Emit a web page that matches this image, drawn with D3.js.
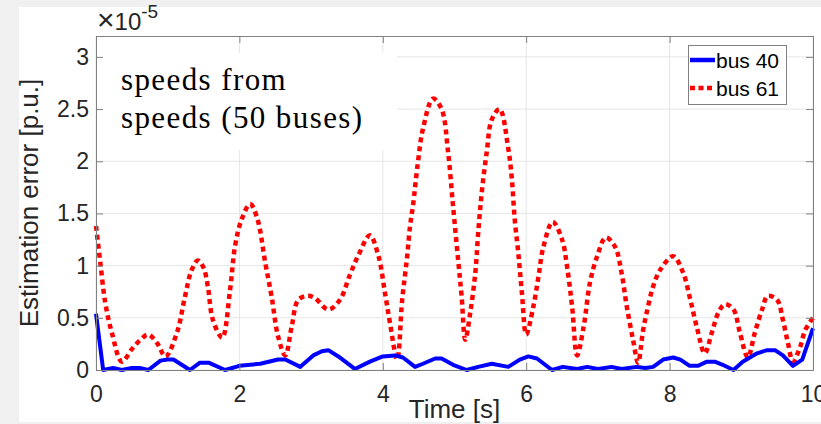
<!DOCTYPE html>
<html>
<head>
<meta charset="utf-8">
<script src="https://cdn.jsdelivr.net/npm/d3@7"></script>
<style>
  body { margin: 0; background: #f0f0f0; }
  svg { display: block; }
</style>
</head>
<body>
<script>
// values in units of 1e-5 p.u.
var bus40_t = [0, 0.1, 0.24, 0.36, 0.5, 0.61, 0.73, 0.9, 1.0, 1.08, 1.31, 1.45, 1.57, 1.8, 2.0, 2.29, 2.54, 2.64, 2.85, 3.03,
    3.15, 3.24, 3.38, 3.61, 3.82, 4.0, 4.17, 4.28, 4.45, 4.56, 4.73, 4.82, 4.98, 5.17, 5.33, 5.52, 5.75, 5.91, 6.03, 6.15,
    6.36, 6.51, 6.71, 6.85, 7.0, 7.19, 7.33, 7.54, 7.66, 7.77, 7.91, 8.05, 8.15, 8.28, 8.4, 8.52, 8.63, 8.74, 8.89, 9.02,
    9.22, 9.36, 9.47, 9.58, 9.72, 9.85, 10];
var bus40_v = [0.54, 0, 0.02, 0, 0.02, 0.02, 0, 0.09, 0.10, 0.10, 0, 0.07, 0.07, 0, 0.04, 0.06, 0.10, 0.10, 0.03, 0.14,
    0.18, 0.19, 0.13, 0.01, 0.08, 0.13, 0.14, 0.12, 0.03, 0.06, 0.11, 0.11, 0.05, 0, 0.03, 0.06, 0.03, 0.10, 0.13, 0.11,
    0, 0.03, 0.01, 0.03, 0.01, 0.03, 0.01, 0.03, 0.02, 0.03, 0.10, 0.12, 0.10, 0.04, 0.04, 0.08, 0.08, 0.05, 0, 0.08,
    0.16, 0.19, 0.19, 0.14, 0.04, 0.10, 0.40];

var bus61_t = [0, 0.06, 0.13, 0.22, 0.36, 0.5, 0.62, 0.73, 0.85, 0.97, 1.13, 1.24, 1.33, 1.42, 1.5, 1.56, 1.63, 1.76, 1.87, 1.94,
    2.03, 2.15, 2.25, 2.36, 2.45, 2.54, 2.64, 2.73, 2.82, 2.95, 3.05, 3.24, 3.4, 3.54, 3.66, 3.82, 3.94, 4.03, 4.1, 4.2,
    4.27, 4.34, 4.38, 4.42, 4.49, 4.56, 4.7, 4.82, 4.91, 4.98, 5.05, 5.1, 5.15, 5.22, 5.29, 5.33, 5.38, 5.45, 5.52, 5.63,
    5.75, 5.8, 5.84, 5.89, 5.94, 6.0, 6.1, 6.17, 6.24, 6.37, 6.5, 6.57, 6.64, 6.71, 6.8, 6.89, 6.99, 7.11, 7.24, 7.33,
    7.4, 7.49, 7.56, 7.63, 7.7, 7.77, 7.87, 8.05, 8.19, 8.28, 8.38, 8.49, 8.59, 8.68, 8.77, 8.89, 8.98, 9.09, 9.19, 9.29,
    9.37, 9.5, 9.58, 9.65, 9.72, 9.82, 9.89, 10];
var bus61_v = [1.38, 1.03, 0.64, 0.36, 0.08, 0.20, 0.29, 0.34, 0.26, 0.13, 0.36, 0.70, 0.95, 1.05, 0.98, 0.80, 0.48, 0.31, 0.77, 1.19,
    1.44, 1.59, 1.45, 1.03, 0.70, 0.32, 0.14, 0.42, 0.67, 0.71, 0.69, 0.58, 0.67, 0.91, 1.10, 1.29, 1.09, 0.74, 0.45, 0.10,
    0.67, 1.09, 1.38, 1.57, 1.99, 2.31, 2.60, 2.50, 2.09, 1.57, 1.06, 0.70, 0.29, 0.55, 0.93, 1.31, 1.70, 2.09, 2.40, 2.50,
    2.12, 1.83, 1.44, 1.12, 0.74, 0.34, 0.61, 0.89, 1.18, 1.42, 1.25, 0.99, 0.61, 0.14, 0.41, 0.84, 1.09, 1.27, 1.18, 0.93,
    0.62, 0.29, 0.07, 0.38, 0.61, 0.80, 0.96, 1.09, 0.93, 0.70, 0.41, 0.16, 0.36, 0.55, 0.63, 0.58, 0.36, 0.12, 0.36, 0.58,
    0.71, 0.67, 0.48, 0.26, 0.08, 0.22, 0.38, 0.50];

var xTicks = [0, 2, 4, 6, 8, 10];
var yTicks = [0, 0.5, 1, 1.5, 2, 2.5, 3];
var legendNames = ["bus 40", "bus 61"];

var W = 821, H = 424;
var mLeft = 96, mRight = 813, mTop = 36, mBottom = 370;

var svg = d3.select("body").append("svg")
    .attr("width", W)
    .attr("height", H);

svg.append("rect").attr("width", W).attr("height", H).attr("fill", "#f0f0f0");
svg.append("rect").attr("x", 19).attr("y", 7).attr("width", W - 19).attr("height", 415).attr("fill", "#fff");

var x = d3.scaleLinear().domain([0, 10]).range([mLeft, mRight]);
var y = d3.scaleLinear().domain([0, 3.2]).range([mBottom, mTop]);

// grid
svg.append("g").selectAll("line").data(xTicks).enter().append("line")
    .attr("x1", d => x(d)).attr("x2", d => x(d))
    .attr("y1", mTop).attr("y2", mBottom)
    .attr("stroke", "#e6e6e6").attr("stroke-width", 1);
svg.append("g").selectAll("line").data(yTicks).enter().append("line")
    .attr("x1", mLeft).attr("x2", mRight)
    .attr("y1", d => y(d)).attr("y2", d => y(d))
    .attr("stroke", "#e6e6e6").attr("stroke-width", 1);

// text box (covers grid)
svg.append("rect").attr("x", 97).attr("y", 53).attr("width", 300).attr("height", 97).attr("fill", "#fff");
var note = svg.append("text")
    .attr("font-family", "'Liberation Serif', serif")
    .attr("font-size", 31)
    .attr("letter-spacing", 1.4)
    .attr("fill", "#000");
note.append("tspan").attr("x", 121).attr("y", 90).text("speeds from");
note.append("tspan").attr("x", 121).attr("y", 128).text("speeds (50 buses)");

// lines
var line40 = d3.line().x((d, i) => x(bus40_t[i])).y(d => y(d));
var line61 = d3.line().x((d, i) => x(bus61_t[i])).y(d => y(d)).curve(d3.curveCatmullRom.alpha(0.5));

svg.append("path").datum(bus61_v)
    .attr("d", line61)
    .attr("fill", "none")
    .attr("stroke", "#ff0000")
    .attr("stroke-width", 4.5)
    .attr("stroke-dasharray", "5,4");

svg.append("path").datum(bus40_v)
    .attr("d", line40)
    .attr("fill", "none")
    .attr("stroke", "#0000ff")
    .attr("stroke-width", 4)
    .attr("stroke-linejoin", "round");

// axes
var axisColor = "#808080";
var textColor = "#262626";

var xAxis = svg.append("g").attr("transform", "translate(0," + mBottom + ")")
    .call(d3.axisBottom(x).tickValues(xTicks).tickSize(-7).tickPadding(16).tickFormat(d3.format("d")));
var yAxis = svg.append("g").attr("transform", "translate(" + mLeft + ",0)")
    .call(d3.axisLeft(y).tickValues(yTicks).tickSize(-7).tickPadding(7).tickFormat(d => d));
var xTop = svg.append("g").attr("transform", "translate(0," + mTop + ")")
    .call(d3.axisTop(x).tickValues(xTicks).tickSize(-7).tickFormat(""));
var yRight = svg.append("g").attr("transform", "translate(" + mRight + ",0)")
    .call(d3.axisRight(y).tickValues(yTicks).tickSize(-7).tickFormat(""));

[xAxis, yAxis, xTop, yRight].forEach(function (g) {
    g.select(".domain").attr("stroke", axisColor).attr("stroke-width", 1);
    g.selectAll(".tick line").attr("stroke", axisColor);
    g.selectAll(".tick text")
        .attr("font-family", "'Liberation Sans', Arial, sans-serif")
        .attr("font-size", 23)
        .attr("fill", textColor);
});

// exponent label
var expo = svg.append("text")
    .attr("x", 97).attr("y", 30)
    .attr("font-family", "'Liberation Sans', Arial, sans-serif")
    .attr("font-size", 24)
    .attr("fill", textColor);
expo.append("tspan").attr("font-size", 30).text("\u00d7");
expo.append("tspan").text("10");
expo.append("tspan").attr("dy", -12).attr("font-size", 19).text("-5");

// axis titles
svg.append("text")
    .attr("x", (mLeft + mRight) / 2).attr("y", 418)
    .attr("text-anchor", "middle")
    .attr("font-family", "'Liberation Sans', Arial, sans-serif")
    .attr("font-size", 26)
    .attr("fill", textColor)
    .text("Time [s]");

svg.append("text")
    .attr("transform", "translate(38," + ((mTop + mBottom) / 2) + ") rotate(-90)")
    .attr("text-anchor", "middle")
    .attr("font-family", "'Liberation Sans', Arial, sans-serif")
    .attr("font-size", 26)
    .attr("fill", textColor)
    .text("Estimation error [p.u.]");

// legend
var lg = svg.append("g");
lg.append("rect").attr("x", 688.5).attr("y", 45.5).attr("width", 98).attr("height", 59)
    .attr("fill", "#fff").attr("stroke", "#808080").attr("stroke-width", 1);
var legendStyles = [
    { color: "#0000ff", dash: null, y: 60 },
    { color: "#ff0000", dash: "5,3.5", y: 88 }
];
legendNames.forEach(function (name, i) {
    var s = legendStyles[i];
    lg.append("line")
        .attr("x1", 690).attr("x2", 715)
        .attr("y1", s.y).attr("y2", s.y)
        .attr("stroke", s.color).attr("stroke-width", 4.5)
        .attr("stroke-dasharray", s.dash);
    lg.append("text")
        .attr("x", 716).attr("y", s.y + 8)
        .attr("font-family", "'Liberation Sans', Arial, sans-serif")
        .attr("font-size", 21)
        .attr("fill", "#000")
        .text(name);
});
</script>
</body>
</html>
